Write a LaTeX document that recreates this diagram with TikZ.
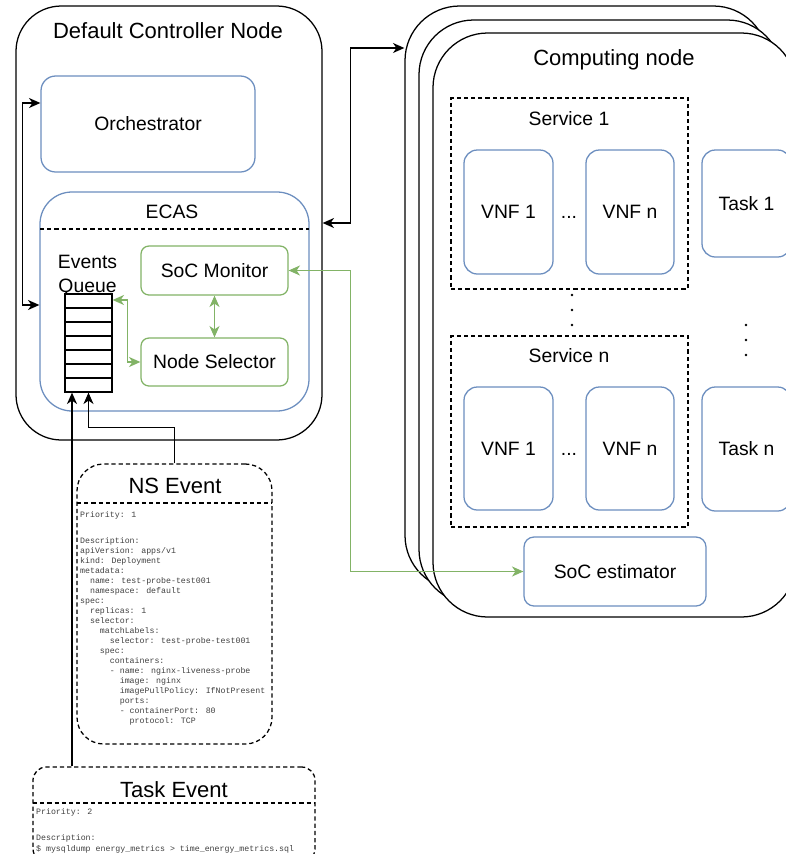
\documentclass[tikz,border=0pt]{standalone}
\usepackage{fontspec}
\setmainfont{Liberation Sans}
\newfontfamily\codefont{Liberation Mono}
\usetikzlibrary{arrows.meta,fit,calc}
\definecolor{nodeblue}{HTML}{6C8EBF}
\definecolor{nodegreen}{HTML}{82B366}
% indentation of n monospace characters
\newcommand\ind[1]{\hspace*{#1\dimexpr0.6em\relax}}

\tikzset{
  outline/.style={draw=black, fill=white, inner sep=0pt},
  bluebox/.style={draw=nodeblue, fill=white, inner sep=0pt},
  greenbox/.style={draw=nodegreen, fill=white, inner sep=0pt},
  dashbox/.style={draw=black, dash pattern=on 3.2pt off 2.2pt, inner sep=0pt},
  dashline/.style={draw=black, dash pattern=on 3.2pt off 2.2pt},
  title/.style={font=\fontsize{16.5}{20}\selectfont, anchor=base, inner sep=0pt},
  label/.style={font=\fontsize{14.5}{17}\selectfont, anchor=base, inner sep=0pt},
  inlabel/.style={font=\fontsize{14.5}{17}\selectfont, anchor=center, inner sep=0pt},
  code/.style={font=\codefont\fontsize{6.2}{7.5}\selectfont, text=black!75, anchor=base west, inner sep=0pt},
  tip/.tip={Stealth[length=8.5pt,width=7.5pt,inset=2.5pt]},
  arr/.style={-tip},
  dblarr/.style={tip-tip},
  dot/.style={fill=black},
}

\begin{document}
\begin{tikzpicture}[x=0.75pt, y=-0.75pt, line width=0.95pt]
\useasboundingbox (0,0) rectangle (786,854);
\clip (0,0) rectangle (786,854);

% ---------- controller ----------
\node[outline, rounded corners=34pt, fit={(16,6)(322,440)}] (ctrl) {};
\node[title] (ctrlT) at (168,38) {Default Controller Node};
\node[bluebox, rounded corners=11pt, fit={(41,76)(255,172)}] (orch) {};
\node[inlabel] (orchT) at (orch.center) {Orchestrator};
\node[bluebox, rounded corners=24pt, fit={(40,192)(309,411)}] (ecas) {};
\node[label] (ecasT) at (172,218) {ECAS};
\draw[dashline] (40,229) -- (309,229);
\node[greenbox, rounded corners=6pt, fit={(141,246)(288,295)}] (socm) {};
\node[inlabel] (socmT) at (socm.center) {SoC Monitor};
\node[greenbox, rounded corners=6pt, fit={(141,338)(288,386)}] (nsel) {};
\node[inlabel] (nselT) at (nsel.center) {Node Selector};

% events queue
\node[label] (evT1) at (87.5,268) {Events};
\node[label] (evT2) at (87.5,292) {Queue};
\node[draw=black, fill=white, inner sep=0pt, fit={(65,294)(112,392)}] (queue) {};
\foreach \k in {1,...,6} \draw (65,{294+14*\k}) -- (112,{294+14*\k});

% ---------- computing node stack ----------
\node[outline, rounded corners=41pt, fit={(405,6)(768,590)}] (cn1) {};
\node[outline, rounded corners=41pt, fit={(419,20)(782,604)}] (cn2) {};
\node[outline, rounded corners=41pt, fit={(433,33)(796,617)}] (cn3) {};
\node[title] (cnT) at (614,65) {Computing node};

\node[dashbox, fit={(451,98)(688,289)}] (srv1) {};
\node[label] (srv1T) at (569,125) {Service 1};
\node[bluebox, rounded corners=10pt, fit={(464,150)(553,274)}] (vnf1a) {};
\node[inlabel] (vnf1aT) at (vnf1a.center) {VNF 1};
\node[bluebox, rounded corners=10pt, fit={(586,150)(674,274)}] (vnfna) {};
\node[inlabel] (vnfnaT) at (vnfna.center) {VNF n};
\node[label] (dotsA) at (569,218) {...};
\node[bluebox, rounded corners=10pt, fit={(702,150)(791,257)}] (task1) {};
\node[inlabel] (task1T) at (task1.center) {Task 1};

\fill[dot] (572,295) circle[radius=1.1pt] (572,310) circle[radius=1.1pt] (572,325) circle[radius=1.1pt];
\fill[dot] (746,325) circle[radius=1.1pt] (746,340) circle[radius=1.1pt] (746,355) circle[radius=1.1pt];

\node[dashbox, fit={(451,336)(688,527)}] (srvn) {};
\node[label] (srvnT) at (569,362) {Service n};
\node[bluebox, rounded corners=10pt, fit={(464,387)(553,510)}] (vnf1b) {};
\node[inlabel] (vnf1bT) at (vnf1b.center) {VNF 1};
\node[bluebox, rounded corners=10pt, fit={(586,387)(674,510)}] (vnfnb) {};
\node[inlabel] (vnfnbT) at (vnfnb.center) {VNF n};
\node[label] (dotsB) at (569,455) {...};
\node[bluebox, rounded corners=10pt, fit={(702,387)(791,511)}] (taskn) {};
\node[inlabel] (tasknT) at (taskn.center) {Task n};

\node[bluebox, rounded corners=7.5pt, fit={(524,537)(706,606)}] (soce) {};
\node[inlabel] (soceT) at (soce.center) {SoC estimator};

% ---------- NS event ----------
\node[dashbox, rounded corners=20pt, fit={(77,464)(272,744)}] (nsev) {};
\node[title] (nsT) at (175,493) {NS Event};
\draw[dashline] (77,503) -- (272,503);
\node[code] (nsP) at (79.5,517.5) {Priority: 1};
\foreach \t [count=\i from 0] in {
  Description:,
  apiVersion: apps/v1,
  kind: Deployment,
  metadata:,
  \ind{2}name: test-probe-test001,
  \ind{2}namespace: default,
  spec:,
  \ind{2}replicas: 1,
  \ind{2}selector:,
  \ind{4}matchLabels:,
  \ind{6}selector: test-probe-test001,
  \ind{4}spec:,
  \ind{6}containers:,
  \ind{6}- name: nginx-liveness-probe,
  \ind{8}image: nginx,
  \ind{8}imagePullPolicy: IfNotPresent,
  \ind{8}ports:,
  \ind{8}- containerPort: 80,
  \ind{10}protocol: TCP}
  \node[code] (nsl\i) at (79.5,{543.5+10*\i}) {\t};

% ---------- Task event ----------
\node[dashbox, rounded corners=10pt, fit={(33,767)(315,862)}] (tev) {};
\node[title] (teT) at (174,797) {Task Event};
\draw[dashline] (33,803) -- (315,803);
\node[code] (teP) at (35.5,814.5) {Priority: 2};
\node[code] (teD) at (35.5,840.5) {Description:};
\node[code] (teC) at (35.5,851) {\$ mysqldump energy\_metrics > time\_energy\_metrics.sql};

% ---------- connectors ----------
\draw[dblarr] ([shift={(0,-21)}]orch.west) -- ++(-18,0) |- ([shift={(0,3.5)}]ecas.west);
\draw[dblarr] (ctrl.east) -- ++(28,0) |- ([shift={(0,-250)}]cn1.west);
\draw[dblarr, nodegreen] (socm.east) -- ++(62,0) |- (soce.west);
\draw[dblarr, nodegreen] (socm.south) -- (nsel.north);
\draw[dblarr, nodegreen] ([shift={(0,-43)}]queue.east) -- ++(15,0) |- (nsel.west);
\coordinate (qin1) at ([shift={(-16.5,0)}]queue.south);
\draw[arr] (qin1 |- tev.north) -- (qin1);
\draw[arr] (nsev.north) -- ++(0,-36) -| (queue.south);
\end{tikzpicture}
\end{document}
